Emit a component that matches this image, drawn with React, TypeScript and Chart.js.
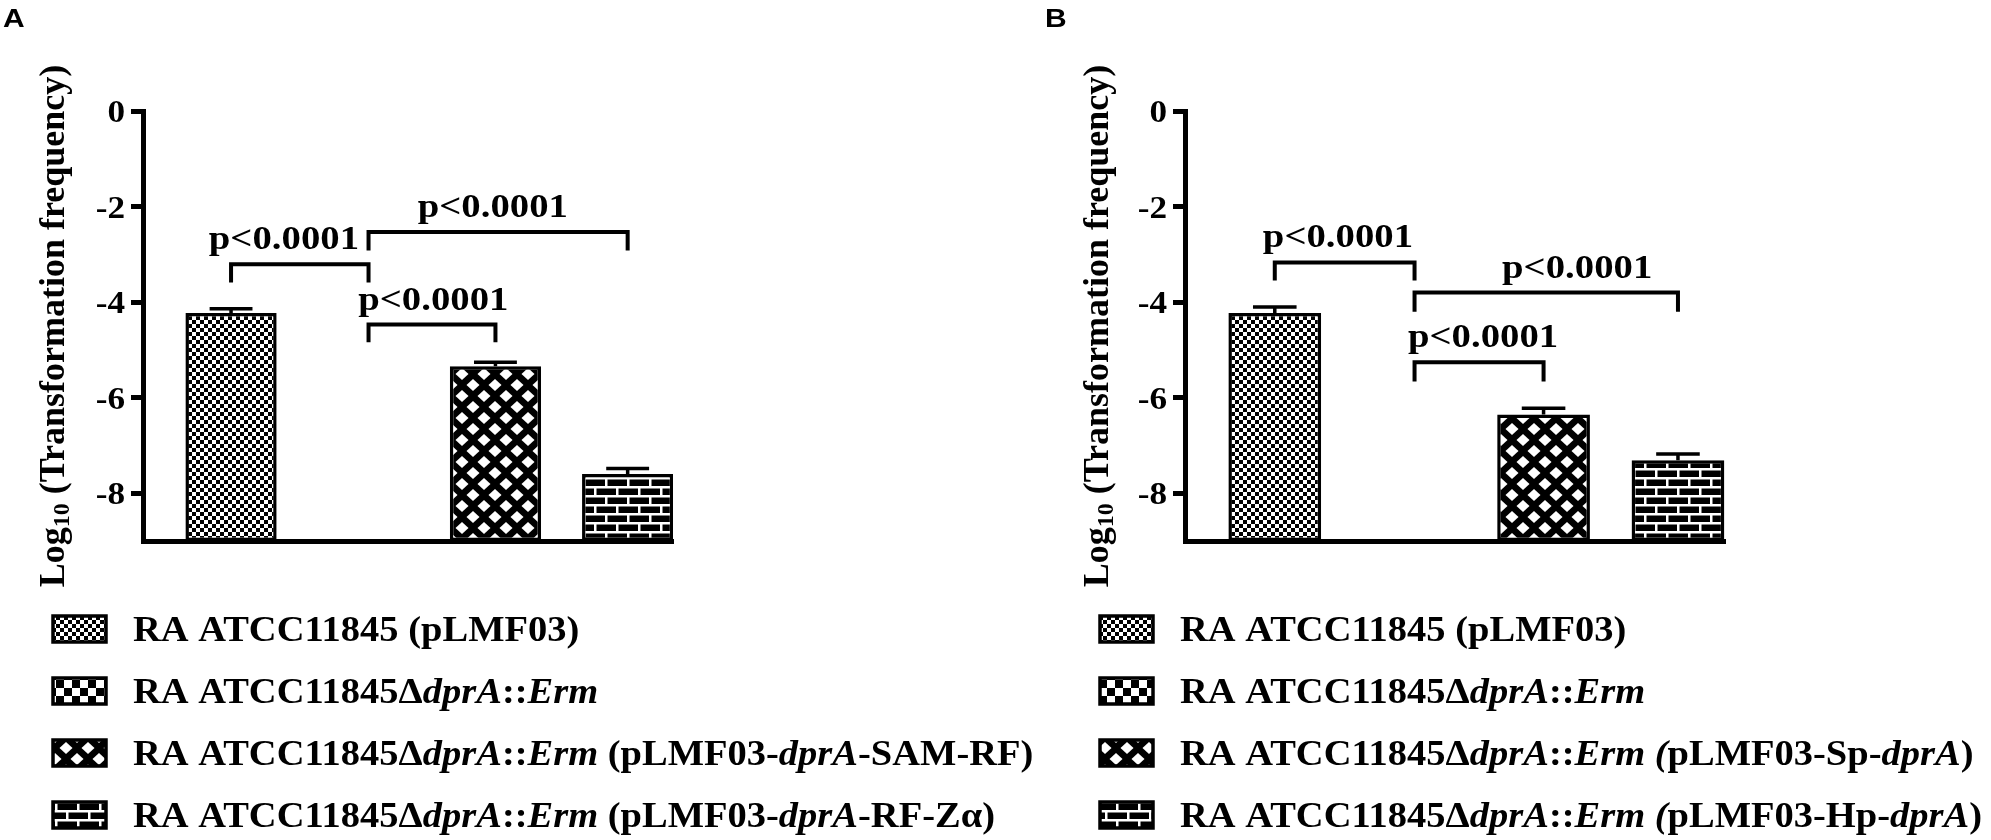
import React, { useEffect, useRef } from 'react';
import { Chart, registerables } from 'chart.js';

Chart.register(...registerables);

// ---- data ----
const categoriesA = [
  'RA ATCC11845 (pLMF03)',
  'RA ATCC11845ΔdprA::Erm',
  'RA ATCC11845ΔdprA::Erm (pLMF03-dprA-SAM-RF)',
  'RA ATCC11845ΔdprA::Erm (pLMF03-dprA-RF-Zα)',
];
const categoriesB = [
  'RA ATCC11845 (pLMF03)',
  'RA ATCC11845ΔdprA::Erm',
  'RA ATCC11845ΔdprA::Erm (pLMF03-Sp-dprA)',
  'RA ATCC11845ΔdprA::Erm (pLMF03-Hp-dprA)',
];

// log10 transformation frequency, mean and upper error (the deletion mutant gave no transformants)
const meansA: (number | null)[] = [-4.23, null, -5.34, -7.6];
const errorsA: (number | null)[] = [0.09, null, 0.08, 0.12];
const meansB: (number | null)[] = [-4.23, null, -6.35, -7.31];
const errorsB: (number | null)[] = [0.13, null, 0.13, 0.13];

const yTicks = [0, -2, -4, -6, -8];

type Bracket = { from: number; to: number; y: number; legEnd: number; labelX: number; text: string };
const bracketsA: Bracket[] = [
  { from: 0, to: 1.04, y: -3.21, legEnd: -3.59, labelX: 0.4, text: 'p<0.0001' },
  { from: 1.04, to: 3, y: -2.53, legEnd: -2.92, labelX: 1.98, text: 'p<0.0001' },
  { from: 1.04, to: 2, y: -4.47, legEnd: -4.84, labelX: 1.53, text: 'p<0.0001' },
];
const bracketsB: Bracket[] = [
  { from: 0, to: 1.04, y: -3.17, legEnd: -3.55, labelX: 0.47, text: 'p<0.0001' },
  { from: 1.04, to: 3, y: -3.8, legEnd: -4.2, labelX: 2.25, text: 'p<0.0001' },
  { from: 1.04, to: 2, y: -5.26, legEnd: -5.66, labelX: 1.55, text: 'p<0.0001' },
];

// legend text as [text, italic] runs
type Run = [string, boolean];
const mutant: Run[] = [['RA ATCC11845Δ', false], ['dprA', true], ['::', false], ['Erm', true]];
const legendA: Run[][] = [
  [['RA ATCC11845 (pLMF03)', false]],
  mutant,
  [...mutant, [' (pLMF03-', false], ['dprA', true], ['-SAM-RF)', false]],
  [...mutant, [' (pLMF03-', false], ['dprA', true], ['-RF-Zα)', false]],
];
const legendB: Run[][] = [
  [['RA ATCC11845 (pLMF03)', false]],
  mutant,
  [...mutant, [' (', true], ['pLMF03-Sp-', false], ['dprA', true], [')', false]],
  [...mutant, [' (', true], ['pLMF03-Hp-', false], ['dprA', true], [')', false]],
];

const SERIF = '"Liberation Serif", "Times New Roman", serif';
const SANS = '"Liberation Sans", Arial, sans-serif';

function tile(w: number, h: number, paint: (c: CanvasRenderingContext2D) => void) {
  const c = document.createElement('canvas');
  c.width = w;
  c.height = h;
  const g = c.getContext('2d')!;
  g.fillStyle = '#fff';
  g.fillRect(0, 0, w, h);
  g.fillStyle = '#000';
  paint(g);
  return c;
}

function makePatterns(ctx: CanvasRenderingContext2D): CanvasPattern[] {
  const fine = tile(8, 8, (g) => {
    g.fillRect(0, 0, 4, 4);
    g.fillRect(4, 4, 4, 4);
  });
  const coarse = tile(16, 16, (g) => {
    g.fillRect(0, 0, 8, 8);
    g.fillRect(8, 8, 8, 8);
  });
  const lattice = tile(22, 22, (g) => {
    g.fillRect(0, 0, 22, 22);
    g.fillStyle = '#fff';
    const diamond = (cx: number, cy: number) => {
      g.beginPath();
      g.moveTo(cx, cy - 6);
      g.lineTo(cx + 6.5, cy);
      g.lineTo(cx, cy + 6);
      g.lineTo(cx - 6.5, cy);
      g.closePath();
      g.fill();
    };
    diamond(11, 11);
    diamond(0, 0);
    diamond(22, 0);
    diamond(0, 22);
    diamond(22, 22);
  });
  const brick = tile(22, 18, (g) => {
    g.fillRect(0, 0, 22, 18);
    g.fillStyle = '#fff';
    g.fillRect(0, 0, 22, 2.5);
    g.fillRect(0, 9, 22, 2.5);
    g.fillRect(0, 0, 2.5, 9);
    g.fillRect(11, 9, 2.5, 9);
  });
  return [fine, coarse, lattice, brick].map((c) => ctx.createPattern(c, 'repeat')!);
}

// horizontally widened text, as in the source figure
function wideText(
  ctx: CanvasRenderingContext2D, text: string, x: number, y: number, sx: number, align: CanvasTextAlign,
) {
  ctx.save();
  ctx.translate(x, y);
  ctx.scale(sx, 1);
  ctx.textAlign = align;
  ctx.fillText(text, 0, 0);
  ctx.restore();
}

function drawRuns(ctx: CanvasRenderingContext2D, runs: Run[], x: number, y: number, size: number, sx: number) {
  ctx.save();
  ctx.translate(x, y);
  ctx.scale(sx, 1);
  ctx.textAlign = 'left';
  let cx = 0;
  for (const [text, italic] of runs) {
    ctx.font = `${italic ? 'italic ' : ''}bold ${size}px ${SERIF}`;
    ctx.fillText(text, cx, 0);
    cx += ctx.measureText(text).width;
  }
  ctx.restore();
}

interface PanelProps {
  letter: string;
  letterX: number;
  titleX: number;
  legendX: number;
  categories: string[];
  means: (number | null)[];
  errors: (number | null)[];
  brackets: Bracket[];
  legend: Run[][];
  left: number;
  width: number;
  axisWidth: number;
  padRight: number;
  xMin: number;
  xMax: number;
}

const Panel: React.FC<PanelProps> = ({
  letter, letterX, titleX, legendX, categories, means, errors, brackets, legend,
  left, width, axisWidth, padRight, xMin, xMax,
}) => {
  const canvasRef = useRef<HTMLCanvasElement>(null);

  useEffect(() => {
    const canvas = canvasRef.current;
    if (!canvas) return;
    const ctx = canvas.getContext('2d');
    if (!ctx) return;
    const patterns = makePatterns(ctx);

    const overlay = {
      id: 'overlay',
      afterDatasetsDraw(chart: Chart) {
        const c = chart.ctx;
        const xs = chart.scales.x;
        const ys = chart.scales.y;
        const meta = chart.getDatasetMeta(0);
        c.save();
        c.strokeStyle = '#000';
        c.fillStyle = '#000';
        c.lineCap = 'butt';
        c.lineJoin = 'miter';
        // upper error bars
        c.lineWidth = 3.5;
        meta.data.forEach((bar: any, i: number) => {
          const m = means[i];
          const e = errors[i];
          if (m == null || e == null) return;
          const top = ys.getPixelForValue(m + e);
          const half = bar.width * 0.235;
          c.beginPath();
          c.moveTo(bar.x, ys.getPixelForValue(m));
          c.lineTo(bar.x, top);
          c.moveTo(bar.x - half, top);
          c.lineTo(bar.x + half, top);
          c.stroke();
        });
        // significance brackets
        c.lineWidth = 4;
        c.font = `bold 34px ${SERIF}`;
        c.textBaseline = 'alphabetic';
        brackets.forEach((b) => {
          const x0 = xs.getPixelForValue(b.from);
          const x1 = xs.getPixelForValue(b.to);
          const yl = ys.getPixelForValue(b.y);
          const ye = ys.getPixelForValue(b.legEnd);
          c.beginPath();
          c.moveTo(x0, ye);
          c.lineTo(x0, yl);
          c.lineTo(x1, yl);
          c.lineTo(x1, ye);
          c.stroke();
          wideText(c, b.text, xs.getPixelForValue(b.labelX), yl - 15, 1.14, 'center');
        });
        c.restore();
      },
      afterDraw(chart: Chart) {
        const c = chart.ctx;
        const area = chart.chartArea;
        const ys = chart.scales.y;
        c.save();
        c.fillStyle = '#000';
        // y tick labels
        c.font = `bold 32px ${SERIF}`;
        c.textBaseline = 'alphabetic';
        yTicks.forEach((v) => {
          wideText(c, String(v), area.left - 18, ys.getPixelForValue(v) + 11, 1.1, 'right');
        });
        // panel letter
        c.font = `bold 25px ${SANS}`;
        c.textBaseline = 'top';
        wideText(c, letter, letterX, 8, 1.2, 'left');
        // y axis title with subscript
        c.save();
        c.translate(titleX, (area.top + area.bottom) / 2);
        c.rotate(-Math.PI / 2);
        c.textBaseline = 'middle';
        c.textAlign = 'left';
        const big = `bold 36px ${SERIF}`;
        const small = `bold 24px ${SERIF}`;
        const rest = ' (Transformation frequency)';
        c.font = big;
        const wLog = c.measureText('Log').width;
        const wRest = c.measureText(rest).width;
        c.font = small;
        const wSub = c.measureText('10').width;
        let cx = -(wLog + wSub + wRest) / 2;
        c.font = big;
        c.fillText('Log', cx, 0);
        cx += wLog;
        c.font = small;
        c.fillText('10', cx, 8);
        cx += wSub;
        c.font = big;
        c.fillText(rest, cx, 0);
        c.restore();
        // legend
        legend.forEach((runs, i) => {
          const cy = area.bottom + 88 + i * 62;
          c.fillStyle = patterns[i];
          c.fillRect(legendX, cy - 13, 53, 26);
          c.strokeStyle = '#000';
          c.lineWidth = 3.5;
          c.strokeRect(legendX, cy - 13, 53, 26);
          c.fillStyle = '#000';
          c.textBaseline = 'alphabetic';
          drawRuns(c, runs, legendX + 80, cy + 12, 35, 1.1);
        });
        c.restore();
      },
    };

    const chart = new Chart(canvas, {
      type: 'bar',
      data: {
        labels: categories,
        datasets: [
          {
            label: 'Log10 (Transformation frequency)',
            data: means.map((v, i) => ({ x: i, y: v })) as any,
            backgroundColor: patterns as any,
            borderColor: '#000',
            borderWidth: 3.5,
            borderSkipped: false,
            base: -9,
            categoryPercentage: 1,
            barPercentage: 0.69,
          },
        ],
      },
      options: {
        animation: false,
        responsive: false,
        layout: { padding: { left: 0, right: padRight, top: 111, bottom: 299 } },
        plugins: { legend: { display: false }, tooltip: { enabled: false } },
        scales: {
          x: {
            type: 'linear',
            offset: false,
            min: xMin,
            max: xMax,
            afterBuildTicks: (s: any) => {
              s.ticks = categories.map((_, i) => ({ value: i }));
            },
            afterFit: (s: any) => {
              s.height = 0;
            },
            ticks: { display: false },
            grid: { display: false },
            border: { display: true, color: '#000', width: 5 },
          },
          y: {
            min: -9,
            max: 0,
            afterBuildTicks: (s: any) => {
              s.ticks = yTicks.map((v) => ({ value: v }));
            },
            afterFit: (s: any) => {
              s.width = axisWidth;
            },
            ticks: { display: false },
            grid: {
              drawOnChartArea: false,
              drawTicks: true,
              tickLength: 12,
              tickWidth: 5,
              tickColor: '#000',
              color: '#000',
            },
            border: { display: true, color: '#000', width: 5 },
          },
        },
      },
      plugins: [overlay],
    });

    return () => chart.destroy();
  }, [letter, letterX, titleX, legendX, categories, means, errors, brackets, legend, width, axisWidth, padRight, xMin, xMax]);

  return (
    <canvas
      ref={canvasRef}
      width={width}
      height={840}
      style={{ display: 'block', position: 'absolute', left, top: 0 }}
    />
  );
};

export default function App() {
  return (
    <div style={{ position: 'absolute', left: 0, top: 0, width: 1991, height: 840, background: '#fff', overflow: 'hidden' }}>
      <Panel
        letter="A"
        letterX={3}
        titleX={55}
        legendX={53}
        categories={categoriesA}
        means={meansA}
        errors={errorsA}
        brackets={bracketsA}
        legend={legendA}
        left={0}
        width={1040}
        axisWidth={143}
        padRight={367}
        xMin={-0.666}
        xMax={3.343}
      />
      <Panel
        letter="B"
        letterX={50}
        titleX={104}
        legendX={105}
        categories={categoriesB}
        means={meansB}
        errors={errorsB}
        brackets={bracketsB}
        legend={legendB}
        left={995}
        width={996}
        axisWidth={190}
        padRight={266}
        xMin={-0.668}
        xMax={3.35}
      />
    </div>
  );
}
